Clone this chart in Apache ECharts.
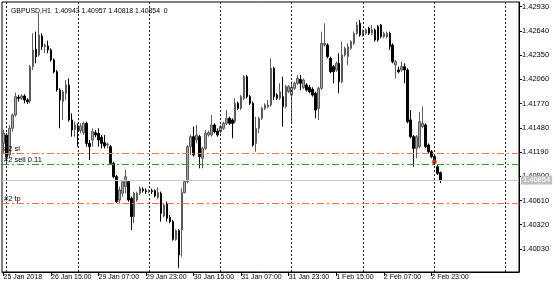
<!DOCTYPE html>
<html>
<head>
<meta charset="utf-8">
<script src="https://cdn.jsdelivr.net/npm/echarts@6/dist/echarts.min.js"></script>
<style>
html,body{margin:0;padding:0;background:#fff;}
#chart{width:560px;height:290px;}
</style>
</head>
<body>
<div id="chart"></div>
<script>
// ---- data (GBPUSD H1, 25 Jan 2018 23:00 .. 5 Feb 2018 02:00) ----
const opens = [
1.41294,1.41394,1.41155,1.41474,1.41633,1.41845,1.41833,1.41861,1.41813,1.41801,
1.42212,1.42419,1.42352,1.42579,1.42451,1.42459,1.42412,1.42292,1.42152,1.41933,
1.41793,1.41893,1.41993,1.41574,1.41462,1.41502,1.41446,1.41422,1.41534,1.41294,
1.41334,1.41422,1.41414,1.41366,1.41302,1.41274,1.41254,1.41055,1.40895,1.40616,
1.40696,1.40776,1.40835,1.40636,1.40417,1.40616,1.40696,1.40744,1.40728,1.40716,
1.40728,1.40728,1.40648,1.40696,1.40424,1.40568,1.40409,1.40357,1.40145,1.40249,
1.40257,1.40704,1.40835,1.41254,1.41374,1.41334,1.41374,1.41115,1.41234,1.41394,
1.41394,1.41514,1.41442,1.41434,1.41474,1.41534,1.41593,1.41574,1.41554,1.41773,
1.41713,1.41833,1.42092,1.41853,1.41773,1.41294,1.41474,1.41593,1.41713,1.41733,
1.41753,1.42192,1.41873,1.41833,1.41853,1.41733,1.41913,1.41873,1.41953,1.42013,
1.42060,1.41965,1.41993,1.41965,1.41941,1.41893,1.41713,1.41953,1.42471,1.42471,
1.42312,1.42212,1.42172,1.42252,1.42032,1.42352,1.42332,1.42431,1.42491,1.42611,
1.42731,1.42591,1.42611,1.42671,1.42611,1.42651,1.42691,1.42711,1.42571,1.42571,
1.42611,1.42471,1.42232,1.42172,1.42172,1.42212,1.42172,1.41574,1.41374,1.41234,
1.41254,1.41494,1.41514,1.41274,1.41194,1.41135,1.41015,1.40943];
const closes = [
1.41414,1.41135,1.41474,1.41633,1.41853,1.41833,1.41861,1.41813,1.41793,1.42212,
1.42412,1.42332,1.42591,1.42451,1.42471,1.42412,1.42292,1.42152,1.41933,1.41813,
1.41913,1.41993,1.41574,1.41454,1.41514,1.41446,1.41502,1.41534,1.41294,1.41254,
1.41434,1.41394,1.41334,1.41294,1.41262,1.41286,1.41055,1.40895,1.40596,1.40736,
1.40835,1.40895,1.40616,1.40417,1.40696,1.40696,1.40756,1.40728,1.40716,1.40728,
1.40716,1.40664,1.40704,1.40456,1.40556,1.40397,1.40357,1.40145,1.40249,1.39958,
1.40704,1.40835,1.41254,1.41374,1.41155,1.41394,1.41135,1.41234,1.41414,1.41422,
1.41514,1.41434,1.41394,1.41494,1.41534,1.41593,1.41534,1.41534,1.41773,1.41713,
1.41853,1.42092,1.41853,1.41773,1.41274,1.41474,1.41593,1.41713,1.41753,1.41753,
1.42192,1.41853,1.41833,1.41913,1.41733,1.41973,1.41973,1.41965,1.42013,1.42072,
1.42013,1.42052,1.41933,1.41913,1.41873,1.41693,1.41953,1.42491,1.42491,1.42332,
1.42152,1.42152,1.42252,1.42032,1.42352,1.42431,1.42451,1.42511,1.42611,1.42711,
1.42591,1.42631,1.42651,1.42611,1.42651,1.42531,1.42531,1.42571,1.42611,1.42611,
1.42451,1.42272,1.42272,1.42152,1.42212,1.42172,1.41554,1.41374,1.41234,1.41374,
1.41554,1.41534,1.41254,1.41194,1.41135,1.41055,1.40935,1.40854];
const lows = [
1.41175,1.41075,1.41115,1.41434,1.41613,1.41793,1.41813,1.41773,1.41765,1.41773,
1.42172,1.42252,1.42332,1.42412,1.42372,1.42372,1.42272,1.42132,1.41913,1.41474,
1.41574,1.41813,1.41554,1.41374,1.41374,1.41254,1.41414,1.41394,1.41254,1.41095,
1.41254,1.41366,1.41254,1.41234,1.41234,1.41234,1.41035,1.40875,1.40576,1.40576,
1.40656,1.40696,1.40596,1.40257,1.40337,1.40596,1.40676,1.40704,1.40688,1.40696,
1.40688,1.40648,1.40624,1.40357,1.40409,1.40357,1.40337,1.40129,1.40129,1.39798,
1.39938,1.40696,1.40815,1.41155,1.41135,1.41294,1.40995,1.40995,1.41214,1.41374,
1.41374,1.41414,1.41374,1.41414,1.41454,1.41514,1.41514,1.41354,1.41534,1.41693,
1.41693,1.41813,1.41833,1.41753,1.41254,1.41194,1.41414,1.41574,1.41693,1.41713,
1.41733,1.41813,1.41813,1.41813,1.41494,1.41713,1.41893,1.41534,1.41933,1.41993,
1.41933,1.41941,1.41913,1.41893,1.41853,1.41593,1.41574,1.41933,1.42451,1.42312,
1.42132,1.42013,1.42152,1.41893,1.42013,1.42332,1.42232,1.42412,1.42471,1.42591,
1.42571,1.42571,1.42591,1.42591,1.42591,1.42511,1.42511,1.42551,1.42551,1.42551,
1.42412,1.42252,1.42072,1.42132,1.42152,1.42013,1.41534,1.41354,1.41015,1.41115,
1.41234,1.41474,1.41234,1.41174,1.41115,1.41035,1.40915,1.40818];
const highs = [
1.41454,1.41414,1.41514,1.41653,1.41901,1.41873,1.41881,1.41881,1.41833,1.42232,
1.42611,1.42631,1.42850,1.42611,1.42491,1.42523,1.42431,1.42312,1.42172,1.41953,
1.41933,1.42052,1.42072,1.41653,1.41554,1.41534,1.41534,1.41554,1.41554,1.41334,
1.41474,1.41454,1.41474,1.41394,1.41394,1.41302,1.41274,1.41075,1.40915,1.40776,
1.40855,1.40975,1.40855,1.40656,1.40716,1.40716,1.40776,1.40768,1.40756,1.40744,
1.40752,1.40744,1.40768,1.40716,1.40576,1.40596,1.40436,1.40377,1.40265,1.40265,
1.40756,1.40855,1.41274,1.41394,1.41494,1.41514,1.41394,1.41254,1.41454,1.41446,
1.41633,1.41534,1.41474,1.41514,1.41554,1.41693,1.41613,1.41593,1.41833,1.41793,
1.41873,1.42112,1.42112,1.41873,1.41793,1.41613,1.41613,1.41733,1.41773,1.41813,
1.42312,1.42212,1.41893,1.42013,1.42092,1.41993,1.41993,1.42032,1.42032,1.42112,
1.42112,1.42072,1.42013,1.41993,1.41965,1.41913,1.41973,1.42631,1.42731,1.42491,
1.42332,1.42232,1.42272,1.42372,1.42511,1.42451,1.42491,1.42531,1.42631,1.42751,
1.42771,1.42659,1.42671,1.42691,1.42711,1.42671,1.42711,1.42723,1.42631,1.42631,
1.42631,1.42491,1.42292,1.42212,1.42272,1.42252,1.42192,1.41693,1.41394,1.41394,
1.41673,1.41733,1.41534,1.41294,1.41214,1.41155,1.41035,1.40957];

const slotCount = 174;                       // bars + empty right margin slots
const xTickIndex  = [0,16,32,48,64,80,96,112,128,144];
const xTickLabels = ['25 Jan 2018','26 Jan 15:00','29 Jan 07:00','29 Jan 23:00','30 Jan 15:00',
                     '31 Jan 07:00','31 Jan 23:00','1 Feb 15:00','2 Feb 07:00','2 Feb 23:00'];
const daySeparators = [1,25,49,73,97,121,145,169];
const yTicks = [1.40030,1.40320,1.40610,1.40900,1.41190,1.41480,1.41770,1.42060,1.42350,1.42640,1.42930];
const yMin = 1.39754, yMax = 1.42986;

const slLevel = 1.41172, sellLevel = 1.41040, tpLevel = 1.40574;
const bidPrice = 1.40854;
const orderMark = [145, 1.41075];
const header = 'GBPUSD,H1  1.40943 1.40957 1.40818 1.40854  0';

// ---- build ----
const cats = [];
for (let i = 0; i < slotCount; i++) cats.push(String(i));
const ohlc = opens.map((o, i) => [o, closes[i], lows[i], highs[i]]);
const FONT = 'Liberation Sans';
const FS = 7.5;
const showTick = (idx) => xTickIndex.indexOf(idx) >= 0;
const DASHDOT = [7, 3, 2, 3];
const ORANGE = 'rgb(250,110,70)';
const GREEN = 'rgb(40,155,40)';

function levelLine(value, color, text) {
  return {
    type: 'line', data: [], silent: true, z: 2,
    itemStyle: {color: color}, lineStyle: {color: color},
    markLine: {
      silent: true, symbol: 'none', animation: false, precision: 5,
      itemStyle: {color: color},
      lineStyle: {color: color, width: 1, type: DASHDOT, opacity: 1},
      emphasis: {disabled: true},
      label: {show: true, position: 'insideStartTop', formatter: text, color: '#000',
              fontSize: FS, fontFamily: FONT, distance: [2, 1]},
      data: [{yAxis: value, lineStyle: {color: color}}]
    }
  };
}

const chart = echarts.init(document.getElementById('chart'), null, {renderer: 'canvas'});
chart.setOption({
  animation: false,
  backgroundColor: '#fff',
  textStyle: {fontFamily: FONT},
  title: {
    text: header, left: 6, top: 3,
    textStyle: {fontSize: 6.9, fontWeight: 'normal', color: '#000', fontFamily: FONT}
  },
  grid: {left: 2, top: 2, width: 517, height: 270, show: true, borderColor: '#000', borderWidth: 1, backgroundColor: '#fff'},
  xAxis: {
    type: 'category', data: cats, boundaryGap: true,
    axisLine: {show: true, lineStyle: {color: '#000', width: 1}},
    axisTick: {show: true, interval: showTick, alignWithLabel: true, length: 4, lineStyle: {color: '#000'}},
    axisLabel: {
      interval: showTick, align: 'left', margin: 2, fontSize: 7, color: '#000', fontFamily: FONT,
      formatter: (v, idx) => { const k = xTickIndex.indexOf(idx); return k >= 0 ? xTickLabels[k] : ''; }
    },
    splitLine: {show: false}
  },
  yAxis: {
    type: 'value', position: 'right', min: yMin, max: yMax, scale: true,
    axisLine: {show: true, lineStyle: {color: '#000', width: 1}},
    axisTick: {show: true, customValues: yTicks, length: 3, lineStyle: {color: '#000'}},
    axisLabel: {customValues: yTicks, margin: 3, fontSize: FS, color: '#000', fontFamily: FONT,
      formatter: (v) => v.toFixed(5)},
    splitLine: {show: false}
  },
  series: [
    {
      type: 'line', data: [], silent: true, z: 1,
      markLine: {
        silent: true, symbol: 'none', animation: false,
        label: {show: false},
        lineStyle: {color: '#222', width: 1, type: [2, 2]},
        data: daySeparators.map(i => ({xAxis: i}))
      }
    },
    {
      type: 'line', data: [], silent: true, z: 2, color: '#c8c8c8',
      markLine: {
        silent: true, symbol: 'none', animation: false, precision: 5,
        lineStyle: {color: '#c8c8c8', width: 1, type: 'solid'},
        label: {show: true, position: 'end', formatter: bidPrice.toFixed(5), color: '#fff', backgroundColor: '#c0c0c0',
                padding: [1, 2, 0, 2], fontSize: FS, fontFamily: FONT, distance: 2},
        data: [{yAxis: bidPrice}]
      }
    },
    levelLine(slLevel, ORANGE, '#2 sl'),
    levelLine(sellLevel, GREEN, '#2 sell 0.11'),
    levelLine(tpLevel, ORANGE, '#2 tp'),
    {
      type: 'candlestick', data: ohlc, z: 3, barWidth: 2,
      itemStyle: {color: '#a8a8a8', color0: '#000', borderColor: '#5a5a5a', borderColor0: '#000', borderWidth: 1}
    },
    {
      type: 'scatter', data: [orderMark], z: 4, symbol: 'circle', symbolSize: 5,
      itemStyle: {color: '#e8401c'}
    }
  ]
});
</script>
</body>
</html>
